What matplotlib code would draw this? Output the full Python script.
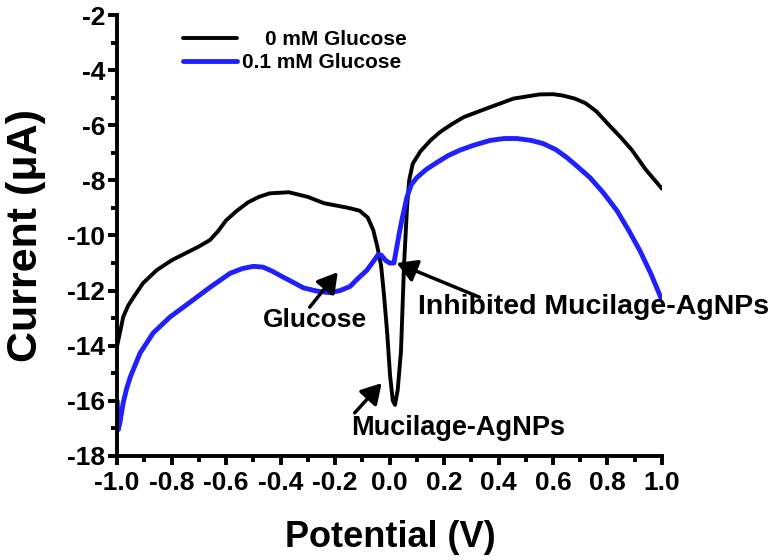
import numpy as np
import matplotlib
matplotlib.use("Agg")
import matplotlib.pyplot as plt

# values
x_0mM = [-1.0, -0.985, -0.978, -0.96, -0.94, -0.905, -0.855, -0.80, -0.75, -0.70, -0.66, -0.63,
         -0.60, -0.56, -0.52, -0.48, -0.44, -0.37, -0.30, -0.24, -0.15, -0.11, -0.08, -0.06,
         -0.045, -0.031, -0.02, -0.009, 0.002, 0.012, 0.02, 0.03, 0.042, 0.053, 0.064, 0.072,
         0.085, 0.113, 0.15, 0.186, 0.23, 0.273, 0.356, 0.455, 0.55, 0.60, 0.636, 0.68, 0.72,
         0.76, 0.80, 0.85, 0.89, 0.94, 1.0]
y_0mM = [-14.0, -13.3, -12.96, -12.55, -12.24, -11.73, -11.26, -10.9, -10.65, -10.4, -10.17, -9.85,
         -9.45, -9.1, -8.8, -8.6, -8.47, -8.43, -8.6, -8.83, -9.0, -9.1, -9.35, -9.8,
         -10.4, -11.1, -12.2, -13.5, -15.1, -16.0, -16.15, -15.6, -14.2, -11.1, -9.0, -8.0,
         -7.4, -6.95, -6.55, -6.24, -5.95, -5.7, -5.39, -5.03, -4.88, -4.87, -4.92, -5.03, -5.2,
         -5.5, -5.93, -6.45, -6.9, -7.6, -8.3]

x_01mM = [-1.0, -0.996, -0.99, -0.978, -0.965, -0.952, -0.916, -0.868, -0.806, -0.732, -0.659,
          -0.585, -0.54, -0.50, -0.464, -0.43, -0.391, -0.35, -0.317, -0.266, -0.218, -0.182,
          -0.145, -0.12, -0.083, -0.06, -0.042, -0.03, -0.015, 0.0, 0.016, 0.027, 0.036, 0.045,
          0.064, 0.08, 0.10, 0.135, 0.174, 0.215, 0.259, 0.31, 0.369, 0.42, 0.468, 0.52, 0.563,
          0.61, 0.651, 0.69, 0.736, 0.785, 0.835, 0.88, 0.919, 0.96, 1.0]
y_01mM = [-16.0, -17.05, -16.8, -16.08, -15.55, -15.14, -14.27, -13.54, -12.96, -12.42, -11.88,
          -11.37, -11.2, -11.12, -11.15, -11.3, -11.51, -11.72, -11.9, -12.02, -12.08, -12.0,
          -11.85, -11.6, -11.26, -10.95, -10.7, -10.72, -10.9, -11.0, -11.0, -10.4, -9.9, -9.45,
          -8.6, -8.15, -7.9, -7.6, -7.35, -7.1, -6.9, -6.72, -6.55, -6.48, -6.48, -6.55, -6.66,
          -6.88, -7.17, -7.5, -7.9, -8.45, -9.1, -9.85, -10.55, -11.4, -12.35]

labels = ["    0 mM Glucose", "0.1 mM Glucose"]
x_ticks = [-1.0, -0.8, -0.6, -0.4, -0.2, 0.0, 0.2, 0.4, 0.6, 0.8, 1.0]
y_ticks = [-18, -16, -14, -12, -10, -8, -6, -4, -2]

plt.rcParams['font.family'] = ['Liberation Sans', 'DejaVu Sans']
plt.rcParams['font.weight'] = 'bold'
plt.rcParams['axes.unicode_minus'] = False

fig = plt.figure(figsize=(7.76, 5.6), dpi=100)
ax = fig.add_axes([0.151, 0.186, 0.702, 0.787])

ax.plot(x_0mM, y_0mM, color='black', lw=2.8, label=labels[0], solid_capstyle='round')
ax.plot(x_01mM, y_01mM, color='#2020ff', lw=3.5, label=labels[1], solid_capstyle='round')

ax.set_xlim(-1.0, 1.0)
ax.set_ylim(-18, -2)
ax.set_xticks(x_ticks)
ax.set_xticklabels(['%.1f' % v for v in x_ticks])
ax.set_yticks(y_ticks)
ax.set_yticklabels([str(v) for v in y_ticks])
ax.set_xticks(np.arange(-0.9, 1.0, 0.2), minor=True)
ax.set_yticks(np.arange(-17, -2, 2), minor=True)

for s in ['top', 'right']:
    ax.spines[s].set_visible(False)
for s in ['left', 'bottom']:
    ax.spines[s].set_linewidth(2.8)
ax.tick_params(which='major', direction='out', length=6.5, width=2.8, labelsize=19)
ax.tick_params(which='minor', direction='out', length=4, width=2.8)
ax.tick_params(axis='x', which='major', pad=4.5)
ax.tick_params(axis='y', which='major', pad=2)

ax.set_xlabel('Potential (V)', fontsize=26, fontweight='bold', va='top')
ax.set_ylabel('Current (μA)', fontsize=31, fontweight='bold', va='center')
ax.xaxis.set_label_coords(0.501, -0.146)
ax.yaxis.set_label_coords(-0.167, 0.499)

ax.legend(loc='upper left', bbox_to_anchor=(0.105, 0.985), frameon=False, fontsize=15,
          handlelength=2.6, handletextpad=0.25, labelspacing=0.2, borderaxespad=0)

arrow = dict(arrowstyle='-|>,head_length=0.6,head_width=0.35', color='black', lw=2.5,
             shrinkA=0, shrinkB=0, mutation_scale=20)
ax.annotate('', xy=(-0.19, -11.33), xytext=(-0.293, -12.6), arrowprops=arrow)
ax.text(-0.275, -13.07, 'Glucose', fontsize=19, fontweight='bold', ha='center', va='center')
ax.annotate('', xy=(-0.029, -15.36), xytext=(-0.128, -16.44), arrowprops=arrow)
ax.text(0.253, -16.99, 'Mucilage-AgNPs', fontsize=19.5, fontweight='bold', ha='center', va='center')
ax.annotate('', xy=(0.026, -11.0), xytext=(0.33, -12.24), arrowprops=arrow)
ax.text(0.106, -12.6, 'Inhibited Mucilage-AgNPs', fontsize=20.5, fontweight='bold', ha='left',
        va='center', clip_on=False)

fig.savefig('out.png', dpi=100)
